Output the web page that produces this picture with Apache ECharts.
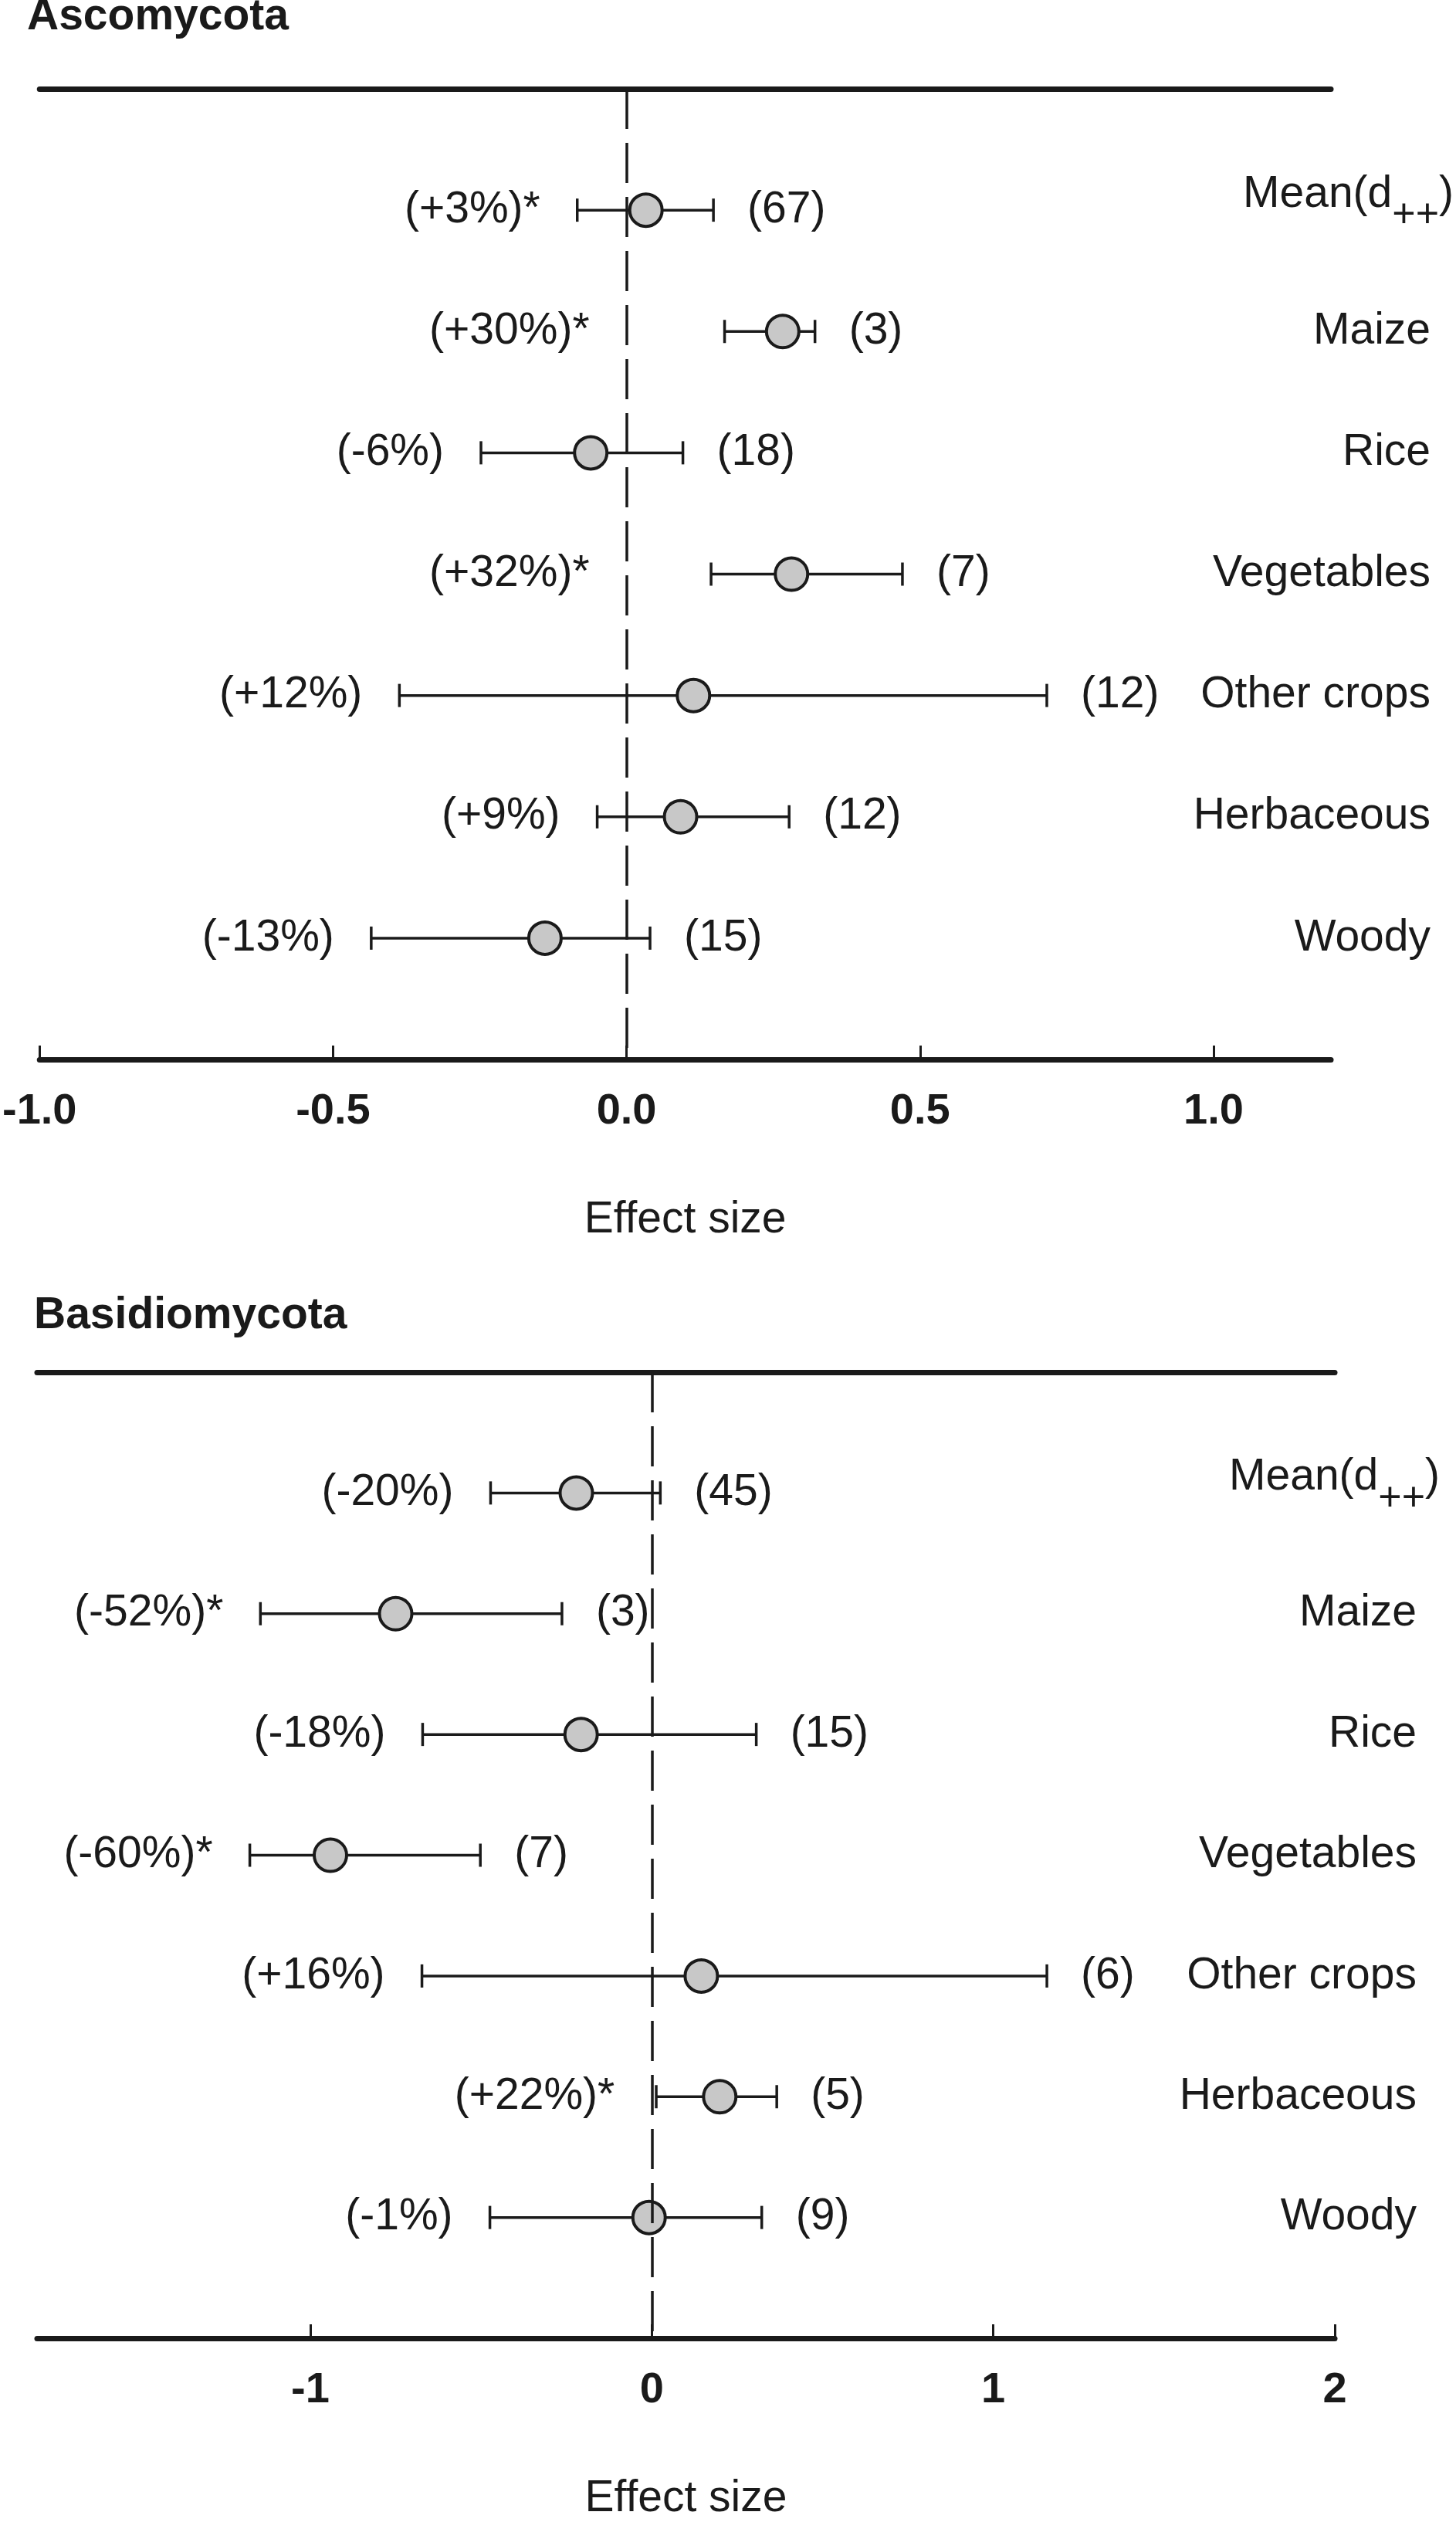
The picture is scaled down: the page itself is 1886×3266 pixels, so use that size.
<!DOCTYPE html>
<html>
<head>
<meta charset="utf-8">
<script src="https://cdn.jsdelivr.net/npm/echarts@6/dist/echarts.min.js"></script>
<style>
  html, body { margin: 0; padding: 0; background: #fff; }
  #chart { width: 1886px; height: 3266px; }
</style>
</head>
<body>
<div id="chart"></div>
<script>
// categories, top to bottom
const categories = ["Mean(d++)", "Maize", "Rice", "Vegetables", "Other crops", "Herbaceous", "Woody"];

// Ascomycota
const ascoMean = [0.033, 0.266, -0.061, 0.281, 0.114, 0.092, -0.139];
const ascoLow = [-0.084, 0.167, -0.248, 0.144, -0.387, -0.05, -0.435];
const ascoHigh = [0.148, 0.321, 0.096, 0.47, 0.716, 0.277, 0.04];
const ascoPct = ["(+3%)*", "(+30%)*", "(-6%)", "(+32%)*", "(+12%)", "(+9%)", "(-13%)"];
const ascoN = ["(67)", "(3)", "(18)", "(7)", "(12)", "(12)", "(15)"];
const ascoTicks = [-1.0, -0.5, 0, 0.5, 1.0];

// Basidiomycota
const basidioMean = [-0.221, -0.75, -0.207, -0.941, 0.145, 0.199, -0.008];
const basidioLow = [-0.472, -1.146, -0.671, -1.177, -0.673, 0.013, -0.474];
const basidioHigh = [0.025, -0.263, 0.306, -0.502, 1.157, 0.366, 0.322];
const basidioPct = ["(-20%)", "(-52%)*", "(-18%)", "(-60%)*", "(+16%)", "(+22%)*", "(-1%)"];
const basidioN = ["(45)", "(3)", "(15)", "(7)", "(6)", "(5)", "(9)"];
const basidioTicks = [-1, 0, 1, 2];

const FONT = '"Liberation Sans", Arial, sans-serif';
const INK = "#1a1a1a";

const chart = echarts.init(document.getElementById("chart"));

function errorBars(low, high, pct, nLab) {
  return function (params, api) {
    const i = params.dataIndex;
    const y = api.coord([0, api.value(1)])[1];
    const xl = api.coord([low[i], 0])[0];
    const xh = api.coord([high[i], 0])[0];
    const x0 = api.coord([0, 0])[0];
    const line = { stroke: INK, lineWidth: 3.5 };
    const txt = { fill: INK, font: "57px " + FONT, verticalAlign: "middle" };
    return {
      type: "group",
      children: [
        { type: "line", shape: { x1: xl, y1: y, x2: xh, y2: y }, style: line },
        { type: "line", shape: { x1: xl, y1: y - 15, x2: xl, y2: y + 15 }, style: line },
        { type: "line", shape: { x1: xh, y1: y - 15, x2: xh, y2: y + 15 }, style: line },
        { type: "text", style: Object.assign({ text: pct[i], x: Math.min(xl, x0) - 48, y: y, align: "right" }, txt) },
        { type: "text", style: Object.assign({ text: nLab[i], x: xh + 44, y: y, align: "left" }, txt) }
      ]
    };
  };
}

function catLabel(v) {
  const name = categories[v - 1];
  if (!name) return "";
  if (name === "Mean(d++)") return "{m|Mean(d}{s|++}{m|)}";
  return "{a|" + name + "}";
}

function xAxes(grid, min, max, ticks, digits) {
  return [
    {
      gridIndex: grid, type: "value", min: min, max: max, position: "bottom",
      axisLine: { onZero: false, lineStyle: { color: INK, width: 7, cap: "round" } },
      axisTick: { inside: true, length: 18, lineStyle: { color: INK, width: 3 }, customValues: ticks },
      axisLabel: {
        customValues: ticks, margin: 40, color: INK, fontFamily: FONT, fontSize: 56, fontWeight: "bold",
        formatter: v => Number(v).toFixed(digits)
      },
      splitLine: { show: false },
      name: "Effect size", nameLocation: "middle", nameGap: 180,
      nameTextStyle: { color: INK, fontFamily: FONT, fontSize: 57 }
    },
    {
      gridIndex: grid, type: "value", min: min, max: max, position: "top",
      axisLine: { onZero: false, lineStyle: { color: INK, width: 7, cap: "round" } },
      axisTick: { show: false }, axisLabel: { show: false }, splitLine: { show: false }
    }
  ];
}

function yAxis(grid, margin) {
  return {
    gridIndex: grid, type: "value", min: 0, max: 8, interval: 1, inverse: true, position: "right",
    axisLine: { show: false }, axisTick: { show: false }, splitLine: { show: false },
    axisLabel: {
      margin: margin, align: "right", formatter: catLabel,
      rich: {
        a: { color: INK, fontFamily: FONT, fontSize: 57, padding: [0, 30, 0, 0] },
        m: { color: INK, fontFamily: FONT, fontSize: 57, padding: [0, 0, 40, 0] },
        s: { color: INK, fontFamily: FONT, fontSize: 52, padding: [16, 0, 0, 0] }
      }
    }
  };
}

function panel(idx, mean, low, high, pct, nLab) {
  const pts = mean.map((m, i) => [m, i + 1]);
  return [
    {
      type: "custom", xAxisIndex: idx * 2, yAxisIndex: idx, z: 2,
      renderItem: errorBars(low, high, pct, nLab), data: pts, silent: true
    },
    {
      type: "scatter", xAxisIndex: idx * 2, yAxisIndex: idx, z: 3, data: pts,
      symbolSize: 42, silent: true,
      itemStyle: { color: "#c8c8c8", borderColor: INK, borderWidth: 4, opacity: 1 },
      markLine: {
        silent: true, symbol: "none", z: 5, label: { show: false },
        lineStyle: { color: INK, width: 3.5, type: [52, 18] },
        data: [{ xAxis: 0 }]
      }
    }
  ];
}

chart.setOption({
  animation: false,
  backgroundColor: "#fff",
  title: [
    { text: "Ascomycota", left: 35, top: -6, padding: 0,
      textStyle: { color: INK, fontFamily: FONT, fontSize: 57, fontWeight: "bold" } },
    { text: "Basidiomycota", left: 44, top: 1676, padding: 0,
      textStyle: { color: INK, fontFamily: FONT, fontSize: 57, fontWeight: "bold" } }
  ],
  grid: [
    { left: 46, right: 160, top: 115, height: 1257 },
    { left: 48, right: 157, top: 1777, height: 1264 }
  ],
  xAxis: xAxes(0, -1.0, 1.2, ascoTicks, 1).concat(xAxes(1, -1.8, 2, basidioTicks, 0)),
  yAxis: [yAxis(0, 159), yAxis(1, 136)],
  series: panel(0, ascoMean, ascoLow, ascoHigh, ascoPct, ascoN)
    .concat(panel(1, basidioMean, basidioLow, basidioHigh, basidioPct, basidioN))
});
</script>
</body>
</html>
